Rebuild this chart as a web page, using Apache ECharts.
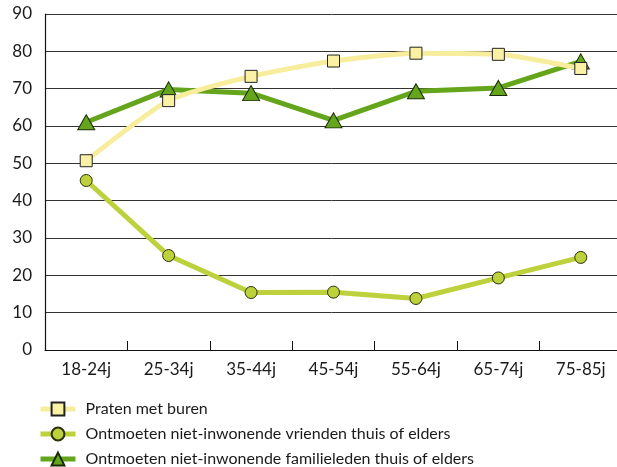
<!DOCTYPE html>
<html>
<head>
<meta charset="utf-8">
<script src="https://cdn.jsdelivr.net/npm/echarts@6/dist/echarts.min.js"></script>
<style>
  html, body { margin: 0; padding: 0; background: #fff; }
  #chart { width: 617px; height: 467px; }
</style>
</head>
<body>
<div id="chart"></div>
<script>
// leeftijdsgroepen
const categories = ['18-24j', '25-34j', '35-44j', '45-54j', '55-64j', '65-74j', '75-85j'];
const yTicks = { min: 0, max: 90, interval: 10 };

const pratenMetBuren = [50.7, 66.8, 73.3, 77.4, 79.5, 79.2, 75.4];
const vrienden = [45.4, 25.3, 15.4, 15.5, 13.8, 19.3, 24.8];
const familie = [61, 69.8, 68.8, 61.5, 69.3, 70.2, 77.3];

const names = [
  'Praten met buren',
  'Ontmoeten niet-inwonende vrienden thuis of elders',
  'Ontmoeten niet-inwonende familieleden thuis of elders'
];

const font = 'Lato, "Noto Sans", sans-serif';
const txt = '#1a1a1a';

// één legenda per regel, zodat er niets omloopt
const legendTops = [401, 426, 451];
const legends = names.map((n, i) => ({
  orient: 'vertical',
  left: 38,
  top: legendTops[i],
  padding: 0,
  itemWidth: 35,
  itemHeight: 16,
  data: [n],
  lineStyle: { width: 5 },
  textStyle: { fontFamily: font, fontSize: 16, lineHeight: 16, color: txt, padding: [0, 0, 0, 5] }
}));

let myChart = echarts.init(document.getElementById('chart'));
myChart.setOption({
  animation: false,
  textStyle: { fontFamily: font },
  grid: { left: 45, top: 14, width: 577, height: 336, outerBoundsMode: 'none' },
  legend: legends,
  xAxis: {
    type: 'category',
    data: categories,
    axisLine: { lineStyle: { color: '#111', width: 1.2 } },
    axisTick: { show: true, inside: true, length: 9, lineStyle: { color: '#111' } },
    axisLabel: { fontFamily: font, fontSize: 17, color: txt, margin: 11 }
  },
  yAxis: {
    type: 'value',
    min: yTicks.min,
    max: yTicks.max,
    interval: yTicks.interval,
    axisLine: { show: true, lineStyle: { color: '#111', width: 1.2 } },
    axisTick: { show: false },
    axisLabel: { fontFamily: font, fontSize: 17, color: txt, margin: 13 },
    splitLine: { lineStyle: { color: '#333', width: 1 } }
  },
  series: [
    {
      name: names[2],
      type: 'line',
      data: familie,
      z: 2,
      symbol: 'triangle',
      symbolSize: [17, 15],
      lineStyle: { color: '#65a51c', width: 5 },
      itemStyle: { color: '#65a51c', borderColor: '#1a2a05', borderWidth: 1 }
    },
    {
      name: names[1],
      type: 'line',
      data: vrienden,
      z: 3,
      symbol: 'circle',
      symbolSize: 12,
      lineStyle: { color: '#bdd13c', width: 5 },
      itemStyle: { color: '#bdd13c', borderColor: '#2a3008', borderWidth: 1 }
    },
    {
      name: names[0],
      type: 'line',
      data: pratenMetBuren,
      z: 4,
      smooth: 0.2,
      symbol: 'rect',
      symbolSize: 12,
      lineStyle: { color: '#f8ed9c', width: 5 },
      itemStyle: { color: '#faf1a4', borderColor: '#222', borderWidth: 1 }
    }
  ]
});
</script>
</body>
</html>
